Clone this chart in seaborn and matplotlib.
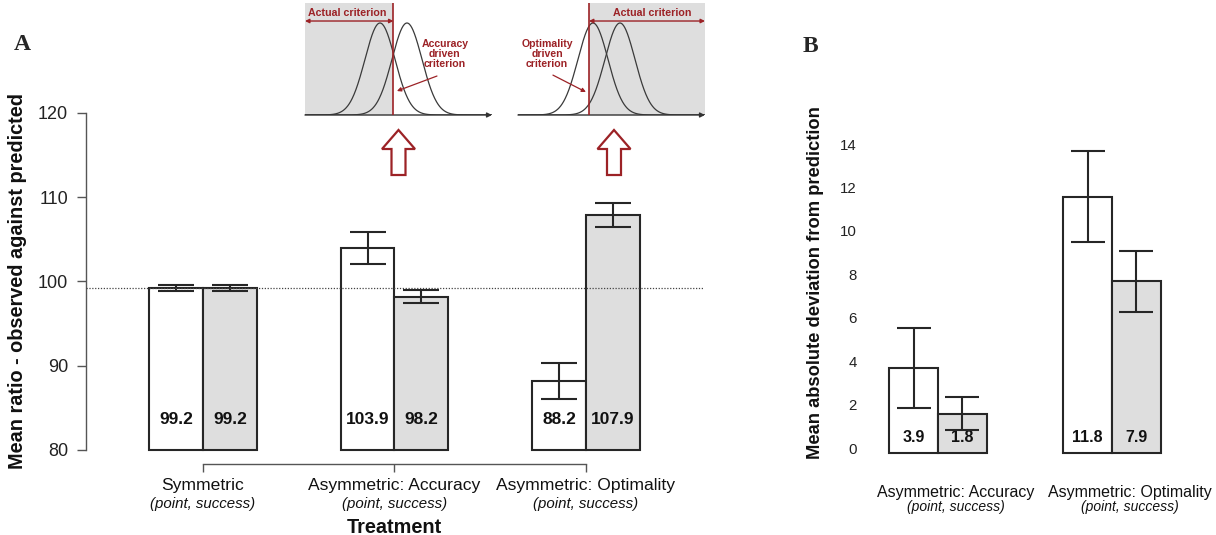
import numpy as np
import pandas as pd
import matplotlib
matplotlib.use("Agg")
import matplotlib.pyplot as plt
import matplotlib.transforms as mtransforms
from matplotlib.patches import FancyArrow
import seaborn as sns

# ---------------- data ----------------
treatments_A = ["Symmetric", "Asymmetric: Accuracy", "Asymmetric: Optimality"]
subtitle = "(point, success)"
conditions = ["point", "success"]
ratio_point = [99.2, 103.9, 88.2]
ratio_success = [99.2, 98.2, 107.9]
ratio_err_point = [0.4, 1.9, 2.1]
ratio_err_success = [0.4, 0.8, 1.4]
ratio_ticks = [80, 90, 100, 110, 120]

treatments_B = ["Asymmetric: Accuracy", "Asymmetric: Optimality"]
dev_point = [3.9, 11.8]
dev_success = [1.8, 7.9]
dev_err_point = [1.85, 2.1]
dev_err_success = [0.76, 1.4]
dev_ticks = [0, 2, 4, 6, 8, 10, 12, 14]

# schematic insets (signal-detection sketch, units of sigma)
dist_means = [0.0, 1.8]
crit_accuracy = 0.9
crit_optimality = -0.27

# ---------------- style ----------------
sns.set_style("ticks")
plt.rcParams["font.family"] = ["Liberation Sans", "DejaVu Sans"]
DARKRED = "#9c2226"
GREY = "#dedede"
EDGE = "#262626"
AX = "#555555"

W, H = 1216, 535
fig = plt.figure(figsize=(W / 100, H / 100), dpi=100)


def px_axes(x0, y0, x1, y1):
    return fig.add_axes([x0 / W, (H - y1) / H, (x1 - x0) / W, (y1 - y0) / H])


def px(dx, dy):
    return mtransforms.ScaledTranslation(dx / 100, dy / 100, fig.dpi_scale_trans)


# ---------------- Panel A ----------------
dfA = pd.DataFrame({
    "treatment": treatments_A * 2,
    "condition": [conditions[0]] * 3 + [conditions[1]] * 3,
    "value": ratio_point + ratio_success,
})
axA = px_axes(86, 112.7, 703, 450)
sns.barplot(data=dfA, x="treatment", y="value", hue="condition",
            order=treatments_A, hue_order=conditions,
            palette={conditions[0]: "white", conditions[1]: GREY},
            width=0.56, gap=0, edgecolor=EDGE, linewidth=1.5,
            errorbar=None, legend=False, saturation=1, ax=axA)
errA = {conditions[0]: ratio_err_point, conditions[1]: ratio_err_success}
base = ratio_ticks[0]
for p in list(axA.patches):
    cx = p.get_x() + p.get_width() / 2
    g = int(round(cx))
    cond = conditions[0] if cx < g else conditions[1]
    h = p.get_height()
    p.set_y(base)
    p.set_height(h - base)
    p.set_clip_on(False)
    axA.errorbar(cx, h, yerr=errA[cond][g], color=EDGE, lw=1.5,
                 capsize=13.3, capthick=1.5, zorder=5)
    axA.annotate(f"{h:.1f}", xy=(cx, base), xytext=(0, 22.3),
                 textcoords="offset points", ha="center", va="center",
                 fontsize=12.5, fontweight="bold", color="#111")
axA.axhline(ratio_point[0], ls=(0, (1, 1.3)), color="#444", lw=0.9, zorder=6)
axA.set_ylim(ratio_ticks[0], ratio_ticks[-1])
axA.set_xlim(-0.611, 2.611)
axA.set_yticks(ratio_ticks)
sns.despine(ax=axA)
axA.spines["left"].set_bounds(ratio_ticks[0], ratio_ticks[-1])
axA.spines["left"].set_color(AX)
axA.spines["left"].set_linewidth(1)
axA.spines["bottom"].set_position(("outward", 10.1))
axA.spines["bottom"].set_bounds(0, len(treatments_A) - 1)
axA.spines["bottom"].set_color(AX)
axA.spines["bottom"].set_linewidth(1)
axA.tick_params(axis="y", length=6.5, width=1, color=AX, pad=6.5,
                labelsize=13, labelcolor="#222")
axA.tick_params(axis="x", length=5.8, width=1, color=AX, pad=4.6,
                labelsize=12.6, labelcolor="#111")
for xt in axA.get_xticks():
    axA.annotate(subtitle, xy=(xt, 0), xycoords=("data", "axes fraction"),
                 xytext=(0, -38.6), textcoords="offset points",
                 ha="center", va="center", fontsize=10.8, style="italic",
                 color="#111")
axA.set_ylabel("Mean ratio - observed against predicted", fontsize=14.3,
               fontweight="bold", color="#111", labelpad=7.6)
axA.set_xlabel("Treatment", fontsize=14.3, fontweight="bold", color="#111")
axA.xaxis.set_label_coords(0.5, -0.2016)

# ---------------- Panel B ----------------
dfB = pd.DataFrame({
    "treatment": treatments_B * 2,
    "condition": [conditions[0]] * 2 + [conditions[1]] * 2,
    "value": dev_point + dev_success,
})
axB = px_axes(870, 127.2, 1216, 452.7)
sns.barplot(data=dfB, x="treatment", y="value", hue="condition",
            order=treatments_B, hue_order=conditions,
            palette={conditions[0]: "white", conditions[1]: GREY},
            width=0.56, gap=0, edgecolor=EDGE, linewidth=1.5,
            errorbar=None, legend=False, saturation=1, ax=axB)
errB = {conditions[0]: dev_err_point, conditions[1]: dev_err_success}
for p in list(axB.patches):
    cx = p.get_x() + p.get_width() / 2
    g = int(round(cx))
    cond = conditions[0] if cx < g else conditions[1]
    h = p.get_height()
    p.set_clip_on(False)
    axB.errorbar(cx, h, yerr=errB[cond][g], color=EDGE, lw=1.5,
                 capsize=12.4, capthick=1.5, zorder=5)
    axB.annotate(f"{h:.1f}", xy=(cx, 0), xytext=(0, 11.3),
                 textcoords="offset points", ha="center", va="center",
                 fontsize=11.5, fontweight="bold", color="#111")
axB.set_ylim(0, 15)
axB.set_xlim(-0.391, 1.598)
axB.set_yticks(dev_ticks)
sns.despine(ax=axB, left=True, bottom=True)
axB.tick_params(axis="y", length=0, pad=9.4, labelsize=10.8, labelcolor="#222")
axB.tick_params(axis="x", length=0, pad=23, labelsize=11.5, labelcolor="#111")
for lbl in axB.get_yticklabels():
    lbl.set_transform(lbl.get_transform() + px(0, 4.7))
for lbl in axB.get_xticklabels():
    lbl.set_transform(lbl.get_transform() + px(18, 0))
for xt in axB.get_xticks():
    axB.annotate(subtitle, xy=(xt, 0), xycoords=("data", "axes fraction"),
                 xytext=(13, -38.9), textcoords="offset points",
                 ha="center", va="center", fontsize=10, style="italic",
                 color="#111")
axB.set_xlabel("")
axB.set_ylabel("Mean absolute deviation from prediction", fontsize=13.2,
               fontweight="bold", color="#111", labelpad=11.9)
axB.yaxis.label.set_y(0.523)

# ---------------- schematic insets ----------------
xs = np.linspace(-5, 7.47, 500)
YTOP = 0.4857


def inset(x0, crit, grey_left, label, lab_xy, arr_from, arr_to, title_dx):
    ax = px_axes(x0, 3, x0 + 187, 115)
    ax.set_xlim(-5, 7.47)
    ax.set_ylim(0, YTOP)
    ax.axis("off")
    if grey_left:
        ax.axvspan(-5, crit, color=GREY, lw=0, zorder=0)
        a0, a1 = -5, crit
    else:
        ax.axvspan(crit, 7.47, color=GREY, lw=0, zorder=0)
        a0, a1 = crit, 7.47
    for m in dist_means:
        pdf = np.exp(-0.5 * (xs - m) ** 2) / np.sqrt(2 * np.pi)
        sns.lineplot(x=xs, y=pdf, color="#3a3a3a", lw=0.9, ax=ax)
    ax.annotate("", xy=(7.47, 0), xytext=(-5, 0),
                arrowprops=dict(arrowstyle="-|>", color="#333", lw=1,
                                mutation_scale=7, shrinkA=0, shrinkB=0),
                annotation_clip=False)
    ax.axvline(crit, color=DARKRED, lw=1.2, zorder=3)
    ax.annotate("", xy=(a0, 0.4076), xytext=(a1, 0.4076),
                arrowprops=dict(arrowstyle="<|-|>", color=DARKRED, lw=1,
                                mutation_scale=6, shrinkA=0, shrinkB=0),
                annotation_clip=False)
    ax.text((a0 + a1) / 2 + title_dx, 0.4423, "Actual criterion", ha="center",
            va="center", fontsize=7.7, fontweight="bold", color=DARKRED)
    ax.text(lab_xy[0], lab_xy[1], label, ha="center", va="center",
            fontsize=7.6, fontweight="bold", color=DARKRED, linespacing=1.05)
    ax.annotate("", xy=arr_to, xytext=arr_from,
                arrowprops=dict(arrowstyle="-|>", color=DARKRED, lw=0.9,
                                mutation_scale=6, shrinkA=0, shrinkB=0))
    return ax


inset(305, crit_accuracy, True, "Accuracy\ndriven\ncriterion",
      (4.33, 0.2645), (3.8, 0.169), (1.13, 0.104), -0.15)
inset(518, crit_optimality, False, "Optimality\ndriven\ncriterion",
      (-3.07, 0.2645), (-2.67, 0.173), (-0.47, 0.0997), 0.35)

# big hollow arrows
for cx in (398.5, 614):
    arr = FancyArrow(cx, H - 175, 0, 45, width=14, head_width=33,
                     head_length=19, length_includes_head=True,
                     facecolor="white", edgecolor=DARKRED, lw=1.6,
                     transform=mtransforms.IdentityTransform())
    fig.add_artist(arr)

# panel letters
fig.text(22 / W, 1 - 45 / H, "A", ha="center", va="center", fontsize=17,
         fontweight="bold", family=["Liberation Serif", "DejaVu Serif"])
fig.text(810 / W, 1 - 47 / H, "B", ha="center", va="center", fontsize=17,
         fontweight="bold", family=["Liberation Serif", "DejaVu Serif"])

fig.savefig("out.png", dpi=100)
